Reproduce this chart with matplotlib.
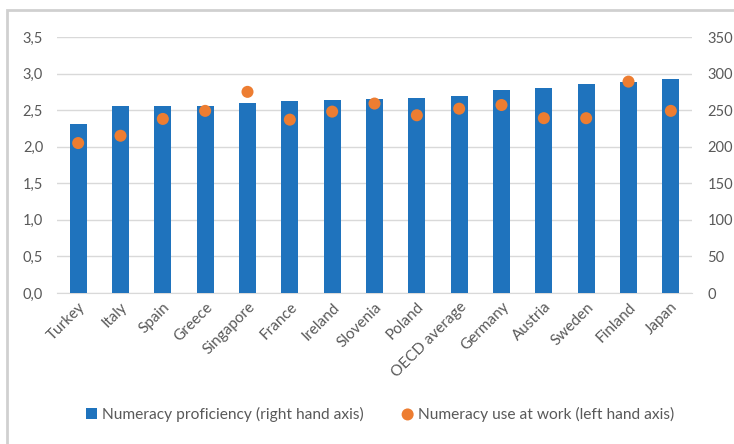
import numpy as np
import matplotlib.pyplot as plt
from matplotlib.patches import Rectangle

countries = ["Turkey", "Italy", "Spain", "Greece", "Singapore", "France", "Ireland",
             "Slovenia", "Poland", "OECD average", "Germany", "Austria", "Sweden",
             "Finland", "Japan"]
proficiency = [231, 255, 256, 256, 260, 262, 264, 265, 266, 270, 278, 280, 286, 289, 292]
use_at_work = [2.05, 2.15, 2.38, 2.49, 2.75, 2.37, 2.48, 2.59, 2.43, 2.52, 2.57, 2.39,
               2.39, 2.89, 2.49]
left_ticks = [0, 0.5, 1.0, 1.5, 2.0, 2.5, 3.0, 3.5]
right_ticks = [0, 50, 100, 150, 200, 250, 300, 350]

plt.rcParams['font.family'] = ['Lato', 'DejaVu Sans']
grey = '#595959'
blue = '#1f73bd'
orange = '#ed7d31'

fig = plt.figure(figsize=(7.34, 4.44), dpi=100)
fig.patches.append(Rectangle((7 / 734, -0.1), 1.2, 1.1 - 10 / 444,
                             transform=fig.transFigure, fill=False,
                             edgecolor='#d0d0d0', linewidth=2))

ax = fig.add_axes([57 / 734, 1 - 293 / 444, (692 - 57) / 734, (293 - 37) / 444])
ax2 = ax.twinx()

x = np.arange(len(countries))
ax2.bar(x, proficiency, width=0.4, color=blue, zorder=2,
        label='Numeracy proficiency (right hand axis)')
ax2.set_ylim(0, 350)
ax2.set_yticks(right_ticks)

ax.set_ylim(0, 3.5)
ax.set_yticks(left_ticks)
ax.set_yticklabels([f"{v:.1f}".replace('.', ',') for v in left_ticks])
ax.set_xlim(-0.5, len(countries) - 0.5)
ax.set_xticks(x)
ax.set_xticklabels(countries, rotation=45, ha='right', rotation_mode='anchor')
ax.grid(axis='y', color='#d9d9d9', linewidth=1)
ax.set_axisbelow(True)

# dots drawn on top of the bars
ax3 = ax.twinx()
ax3.set_ylim(0, 3.5)
ax3.axis('off')
ax3.scatter(x, use_at_work, s=75, color=orange, zorder=3, edgecolors='none',
            label='Numeracy use at work (left hand axis)')

for a in (ax, ax2, ax3):
    for s in a.spines.values():
        s.set_visible(False)
ax.spines['bottom'].set_visible(True)
ax.spines['bottom'].set_color('#d9d9d9')
ax.tick_params(axis='y', length=0, colors=grey, labelsize=10.5, pad=10)
ax.tick_params(axis='x', length=0, colors=grey, labelsize=11, pad=5)
ax2.tick_params(axis='y', length=0, colors=grey, labelsize=10.5, pad=11)

h1, l1 = ax2.get_legend_handles_labels()
h2, l2 = ax3.get_legend_handles_labels()
fig.legend(h1 + h2, l1 + l2, loc='center', bbox_to_anchor=(380 / 734, 1 - 414 / 444),
           ncol=2, frameon=False, fontsize=11.2, labelcolor=grey,
           handlelength=0.7, handletextpad=0.3, columnspacing=2.5)

fig.savefig('out.png', dpi=100)
